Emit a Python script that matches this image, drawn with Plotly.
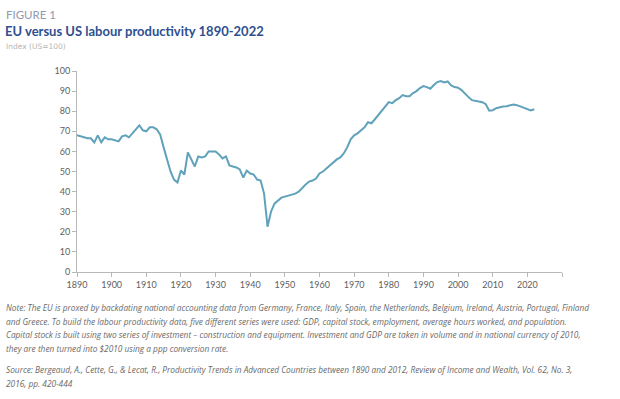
import plotly.graph_objects as go

years = list(range(1890, 2023))
eu_index = [
    68, 67.5, 67, 66.5, 66.5, 64.5, 68, 64.5, 67, 66,          # 1890-1899
    66, 65.5, 65, 67.5, 68, 67, 69, 70.5, 73, 70.5,            # 1900-1909
    70, 72, 72, 71, 68.5, 62, 56, 50, 46, 44.5,                # 1910-1919
    50.5, 48.5, 59.5, 56, 52.5, 57.5, 57, 57.5, 60, 60,        # 1920-1929
    60, 58.5, 56.5, 57.5, 53, 52.5, 52, 51, 47, 50.5,          # 1930-1939
    49, 48.5, 46, 45.5, 39, 22.5, 30, 34, 35.5, 37,            # 1940-1949
    37.5, 38, 38.5, 39, 40, 42, 43.5, 45, 45.5, 46.5,          # 1950-1959
    49, 50, 51.5, 53, 54.5, 56, 57, 59, 62, 66,                # 1960-1969
    68, 69, 70.5, 72, 74.5, 74, 76, 78, 80, 82.5,              # 1970-1979
    84.5, 84, 85.5, 86.5, 88, 87.5, 87.5, 89, 90, 91.5,        # 1980-1989
    92.5, 92, 91.2, 93, 94.5, 95, 94.3, 94.8, 92.8, 92,        # 1990-1999
    91.7, 90.5, 88.5, 87, 85.5, 85, 84.8, 84.5, 83.5, 80.3,    # 2000-2009
    80.5, 81.5, 82, 82.3, 82.5, 83, 83.3, 83, 82.3, 81.8,      # 2010-2019
    81, 80.4, 81,                                              # 2020-2022
]

x_ticks = list(range(1890, 2031, 10))
x_tick_labels = [str(v) if v <= 2020 else "" for v in x_ticks]
y_ticks = list(range(0, 101, 10))

fig_label = "FIGURE 1"
title = "EU versus US labour productivity 1890-2022"
subtitle = "Index (US=100)"
note_lines = [
    "Note: The EU is proxed by backdating national accounting data from Germany, France, Italy, Spain, the Netherlands, Belgium, Ireland, Austria, Portugal, Finland",
    "and Greece. To build the labour productivity data, five different series were used: GDP, capital stock, employment, average hours worked, and population.",
    "Capital stock is built using two series of investment \u2013 construction and equipment. Investment and GDP are taken in volume and in national currency of 2010,",
    "they are then turned into $2010 using a ppp conversion rate.",
]
source_lines = [
    "Source: Bergeaud, A., Cette, G., & Lecat, R., Productivity Trends in Advanced Countries between 1890 and 2012, Review of Income and Wealth, Vol. 62, No. 3,",
    "2016, pp. 420-444",
]

W, H = 620, 399
L, R, T, B = 77, 58, 71, 127

fig = go.Figure()
fig.add_trace(go.Scatter(
    x=years, y=eu_index, mode="lines",
    line=dict(color="#5fa2ba", width=2),
    hoverinfo="x+y", showlegend=False,
))

axis_color = "#b8b8b8"
tick_font = dict(family="Lato, Arial, sans-serif", size=9, color="#606060")

fig.update_layout(
    width=W, height=H, autosize=False,
    margin=dict(l=L, r=R, t=T, b=B),
    paper_bgcolor="white", plot_bgcolor="white",
    xaxis=dict(
        range=[1890, 2030], tickvals=x_ticks, ticktext=x_tick_labels,
        showgrid=False, zeroline=False, showline=True, linecolor=axis_color,
        linewidth=1, ticks="outside", ticklen=4, tickcolor=axis_color,
        tickfont=tick_font,
    ),
    yaxis=dict(
        range=[0, 100], tickvals=y_ticks, showgrid=False, zeroline=False,
        showline=True, linecolor=axis_color, linewidth=1, ticks="outside",
        ticklen=4, tickcolor=axis_color, tickfont=tick_font,
    ),
)

note_font = dict(family="Open Sans, sans-serif", size=8.3, color="#6a6a6a")
anns = [
    dict(text=fig_label, x=4, y=6, font=dict(family="Lato, sans-serif", size=11.5, color="#8f9bb0")),
    dict(text="<b>" + title + "</b>", x=3, y=21, font=dict(family="Lato, sans-serif", size=13, color="#2f4f8f")),
    dict(text=subtitle, x=4, y=40, font=dict(family="DejaVu Sans, sans-serif", size=7.5, color="#b5b5b5")),
]
note_y = [300, 313.5, 327, 340.5]
for line, yy in zip(note_lines, note_y):
    anns.append(dict(text="<i>" + line + "</i>", x=4, y=yy, font=note_font))
src_y = [362, 376]
for line, yy in zip(source_lines, src_y):
    anns.append(dict(text="<i>" + line + "</i>", x=4, y=yy, font=note_font))

pw, ph = W - L - R, H - T - B
for a in anns:
    a.update(xref="paper", yref="paper", showarrow=False, xanchor="left", yanchor="top")
    a["x"] = (a["x"] - L) / pw
    a["y"] = (H - a["y"] - B) / ph
fig.update_layout(annotations=anns)

fig.write_html(
    "out.html",
    config={"displayModeBar": False},
    post_script="document.body.style.margin='0';document.body.style.overflow='hidden';",
)
